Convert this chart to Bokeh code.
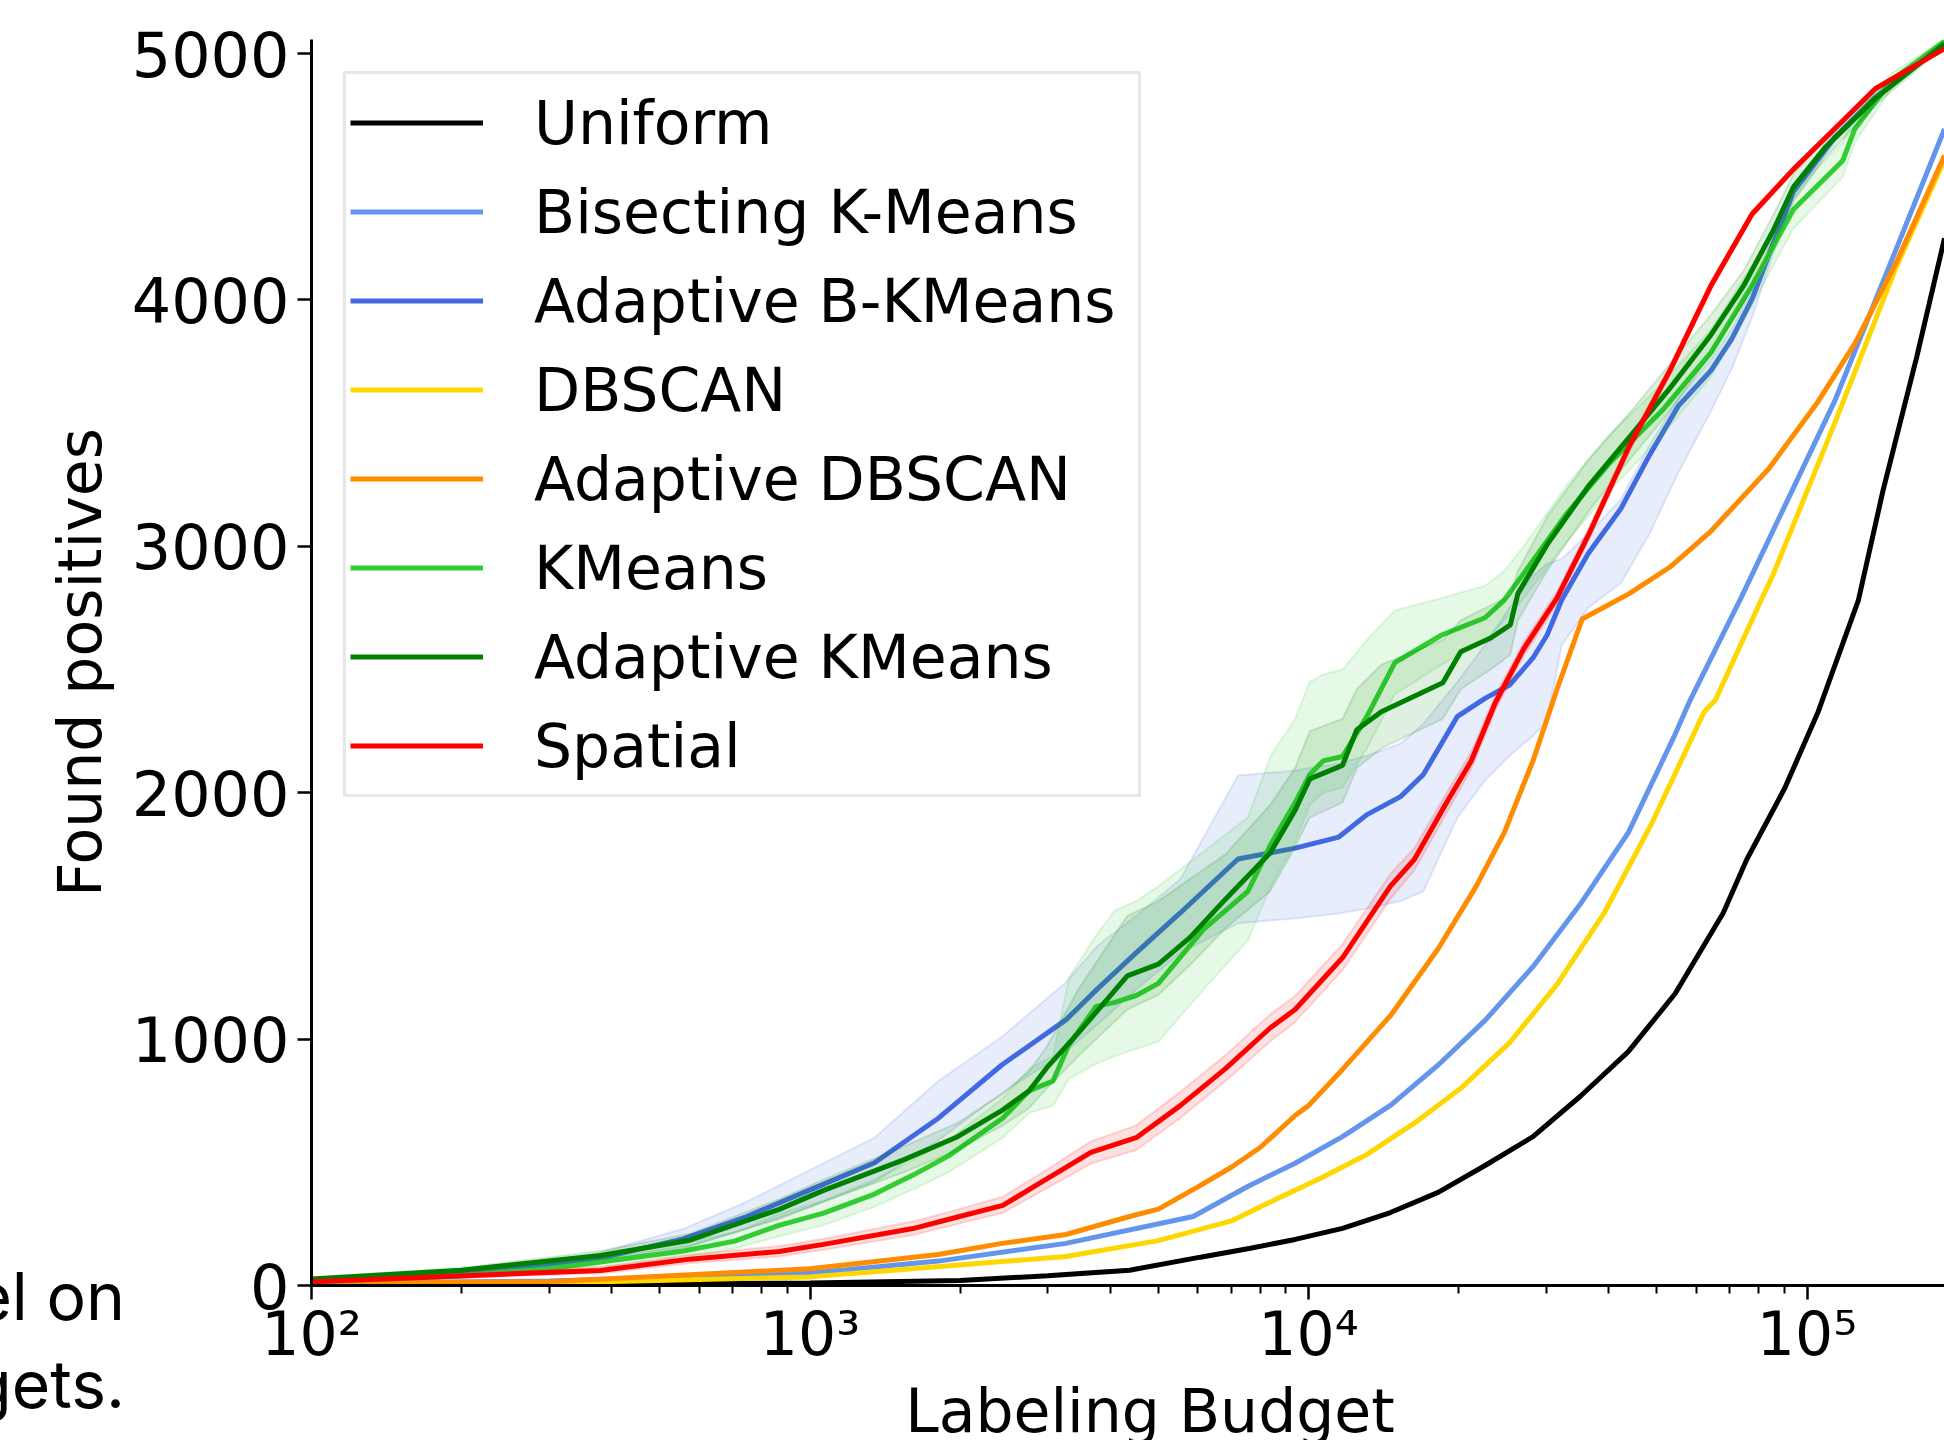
from bokeh.plotting import figure
from bokeh.models import Legend, LegendItem, FixedTicker, Range1d, Div
from bokeh.layouts import column
from bokeh.embed import file_html
from bokeh.resources import INLINE

FONT = "DejaVu Sans"

# ---------------- data ----------------
uniform_x = [100, 300, 1000, 2000, 3000, 4375, 6070, 7600, 9400, 11700, 14600, 18200, 22600,
             28200, 35100, 43800, 54400, 67900, 75700, 90300, 105300, 126800, 142000, 166000, 188700]
uniform_y = [3, 5, 10, 20, 40, 62, 115, 150, 187, 232, 296, 378, 487,
             604, 768, 949, 1185, 1512, 1729, 2020, 2329, 2782, 3225, 3769, 4250]

bisect_x = [100, 300, 1000, 1809, 3260, 5870, 7600, 9400, 11700, 14600, 18200, 22600, 28200,
            35100, 43800, 54400, 58300, 74100, 113500, 150800, 188700]
bisect_y = [10, 18, 50, 99, 171, 280, 405, 496, 604, 731, 895, 1076, 1294,
            1548, 1838, 2238, 2376, 2800, 3587, 4204, 4694]

adbk_x = [100, 230, 358, 557, 747, 1003, 1347, 1809, 2428, 3260, 3777, 4508, 5535, 7220, 9400,
          11500, 13100, 15300, 17000, 19900, 22600, 25300, 28200, 30100, 32200, 36400, 42300,
          48300, 55200, 64200, 70600, 77600, 85300, 93900, 113500, 137000, 148000, 188700]
adbk_y = [17, 62, 99, 189, 280, 389, 498, 679, 896, 1078, 1205, 1350, 1513, 1731, 1775,
          1820, 1911, 1984, 2074, 2310, 2383, 2437, 2547, 2640, 2782, 2971, 3152,
          3370, 3570, 3714, 3841, 4004, 4222, 4440, 4658, 4821, 4875, 5040]
adbk_lo = [12, 50, 80, 150, 230, 320, 420, 590, 780, 950, 1060, 1200, 1350, 1470, 1490,
           1510, 1530, 1560, 1600, 1900, 2050, 2150, 2230, 2290, 2600, 2750, 2850,
           3050, 3300, 3550, 3720, 3930, 4180, 4410, 4640, 4810, 4865, 5035]
adbk_hi = [22, 75, 120, 230, 340, 470, 600, 830, 1010, 1230, 1380, 1500, 1650, 2070, 2090,
           2120, 2150, 2200, 2280, 2450, 2600, 2750, 2880, 2930, 2950, 3050, 3190,
           3410, 3600, 3760, 3880, 4040, 4260, 4470, 4680, 4835, 4885, 5045]

dbscan_x = [100, 300, 1000, 3260, 5000, 7000, 8400, 10500, 13100, 16300, 20300, 25300, 31500,
            39200, 48800, 62200, 65500, 80900, 85300, 113500, 150800, 188700]
dbscan_y = [5, 10, 35, 118, 182, 262, 340, 432, 532, 659, 804, 985, 1221,
            1512, 1875, 2329, 2376, 2782, 2880, 3497, 4131, 4569]

addb_x = [100, 300, 1000, 1809, 2428, 3260, 4375, 5000, 6000, 7000, 8000, 9400, 10000, 11700,
          14600, 18200, 21700, 24700, 28200, 31500, 35400, 44000, 53100, 64200, 83800, 105200,
          124700, 150800, 188700]
addb_y = [8, 15, 68, 126, 171, 207, 280, 310, 400, 480, 560, 690, 730, 877,
          1095, 1367, 1621, 1838, 2129, 2419, 2705, 2808, 2916, 3062, 3315, 3587,
          3823, 4149, 4586]

km_x = [100, 200, 300, 557, 706, 866, 1065, 1347, 1609, 1897, 2437, 2751, 3072, 3307, 3748,
        4073, 4512, 5000, 6150, 7555, 8400, 9400, 10060, 10700, 11700, 13100, 14900, 18500,
        22600, 24700, 26800, 33000, 40000, 51200, 64200, 77600, 93900, 118000, 124700, 148000,
        188700]
km_y = [14, 40, 68, 140, 180, 244, 294, 371, 448, 526, 680, 790, 830, 977, 1133,
        1148, 1177, 1226, 1444, 1599, 1790, 1960, 2074, 2129, 2147, 2310, 2528, 2640,
        2710, 2782, 2880, 3134, 3334, 3551, 3787, 4059, 4367, 4566, 4694, 4893,
        5050]
km_lo = [10, 30, 55, 110, 150, 200, 245, 320, 390, 460, 600, 700, 730, 840, 900,
         930, 960, 990, 1200, 1400, 1620, 1800, 1950, 2000, 2020, 2180, 2400, 2520,
         2620, 2700, 2780, 3020, 3220, 3450, 3690, 3980, 4290, 4500, 4640, 4860,
         5040]
km_hi = [20, 50, 85, 175, 215, 290, 345, 430, 510, 590, 760, 880, 930, 1250, 1420,
         1520, 1560, 1620, 1760, 1900, 2150, 2300, 2450, 2480, 2500, 2620, 2740, 2790,
         2840, 2900, 2990, 3250, 3450, 3660, 3880, 4140, 4440, 4640, 4750, 4920,
         5060]

adkm_x = [100, 200, 380, 574, 867, 1065, 1545, 1977, 2437, 2751, 2986, 3450, 4330, 5000, 5780,
          6815, 8375, 9400, 10060, 11700, 12500, 14000, 18600, 20200, 23200, 25400, 26300,
          30100, 36400, 44000, 53100, 64200, 74700, 85300, 93900, 109000, 137000, 188700]
adkm_y = [26, 62, 122, 184, 309, 386, 511, 604, 713, 790, 884, 1024, 1257, 1304, 1412,
          1568, 1755, 1929, 2056, 2111, 2256, 2329, 2446, 2572, 2628, 2681, 2808,
          3007, 3243, 3442, 3642, 3859, 4059, 4277, 4458, 4621, 4817, 5040]
adkm_lo = [20, 52, 105, 160, 270, 340, 460, 550, 650, 720, 800, 930, 1120, 1180, 1300,
           1450, 1600, 1780, 1900, 1960, 2100, 2180, 2300, 2420, 2500, 2560, 2700,
           2900, 3140, 3350, 3550, 3780, 3990, 4210, 4400, 4580, 4790, 5030]
adkm_hi = [32, 72, 140, 210, 350, 430, 565, 660, 780, 870, 970, 1200, 1500, 1560, 1650,
           1750, 1950, 2100, 2250, 2300, 2420, 2520, 2620, 2700, 2760, 2800, 2900,
           3120, 3350, 3540, 3740, 3940, 4120, 4340, 4510, 4660, 4840, 5050]

spatial_x = [100, 230, 380, 574, 867, 1065, 1609, 1977, 2437, 2986, 3660, 4512, 5530, 6815,
             8375, 9400, 11700, 14600, 16300, 19000, 21200, 23700, 27000, 31500, 36400, 44000,
             53100, 64200, 77600, 93900, 113500, 137000, 188700]
spatial_y = [15, 44, 61, 107, 138, 167, 231, 278, 325, 433, 540, 600, 730, 880,
             1045, 1120, 1330, 1621, 1729, 1966, 2129, 2365, 2583, 2790, 3044, 3406,
             3714, 4059, 4349, 4530, 4694, 4857, 5020]
spatial_lo = [10, 36, 50, 90, 118, 145, 205, 250, 295, 395, 495, 550, 680, 830,
              990, 1070, 1280, 1570, 1685, 1925, 2095, 2335, 2555, 2765, 3020, 3385,
              3695, 4040, 4335, 4520, 4686, 4850, 5015]
spatial_hi = [20, 54, 74, 125, 160, 190, 260, 308, 360, 470, 585, 650, 785, 935,
              1100, 1175, 1385, 1670, 1775, 2005, 2165, 2395, 2610, 2815, 3068, 3427,
              3733, 4078, 4363, 4540, 4702, 4864, 5025]

labels = ["Uniform", "Bisecting K-Means", "Adaptive B-KMeans", "DBSCAN",
          "Adaptive DBSCAN", "KMeans", "Adaptive KMeans", "Spatial"]
colors = ["#000000", "#6495ED", "#4169E1", "#FFD700", "#FF8C00", "#32CD32", "#008000", "#FF0000"]

x_major = [100, 1000, 10000, 100000]
x_major_labels = ["10²", "10³", "10⁴", "10⁵"]
x_minor = [200, 300, 400, 500, 600, 700, 800, 900,
           2000, 3000, 4000, 5000, 6000, 7000, 8000, 9000,
           20000, 30000, 40000, 50000, 60000, 70000, 80000, 90000]
y_ticks = [0, 1000, 2000, 3000, 4000, 5000]

x_axis_title = "Labeling Budget"
y_axis_title = "Found positives"
caption_lines = ["model on", "budgets."]

# ---------------- figure ----------------
p = figure(width=1944, height=1440, x_axis_type="log",
           x_range=Range1d(100, 188700), y_range=Range1d(0, 5057),
           output_backend="svg", toolbar_location=None,
           min_border_left=311, min_border_right=0, min_border_top=39, min_border_bottom=155)
p.xgrid.visible = False
p.ygrid.visible = False
p.outline_line_color = None
p.background_fill_color = None
p.border_fill_color = None

series = [
    (uniform_x, uniform_y, None, None),
    (bisect_x, bisect_y, None, None),
    (adbk_x, adbk_y, adbk_lo, adbk_hi),
    (dbscan_x, dbscan_y, None, None),
    (addb_x, addb_y, None, None),
    (km_x, km_y, km_lo, km_hi),
    (adkm_x, adkm_y, adkm_lo, adkm_hi),
    (spatial_x, spatial_y, spatial_lo, spatial_hi),
]

items = []
for (xs, ys, lo, hi), lab, col in zip(series, labels, colors):
    if lo is not None:
        p.varea(x=xs, y1=lo, y2=hi, fill_color=col, fill_alpha=0.12)
        p.line(xs, lo, line_color=col, line_alpha=0.15, line_width=2)
        p.line(xs, hi, line_color=col, line_alpha=0.15, line_width=2)
    r = p.line(xs, ys, line_color=col, line_width=5)
    items.append(LegendItem(label=lab, renderers=[r]))

legend = Legend(items=items, location="top_left", margin=32, padding=4, spacing=0,
                glyph_width=133, glyph_height=89, label_height=89, label_standoff=51,
                label_width=600,
                label_text_font=FONT, label_text_font_size="60px", label_text_color="black",
                border_line_color="#d0d0d0", border_line_width=3,
                background_fill_color="white", background_fill_alpha=0.8)
p.add_layout(legend)

for ax in (p.xaxis[0], p.yaxis[0]):
    ax.axis_line_width = 3
    ax.axis_line_color = "black"
    ax.major_tick_line_width = 2.5
    ax.minor_tick_line_width = 2
    ax.major_tick_out = 14
    ax.major_tick_in = 0
    ax.minor_tick_out = 8
    ax.minor_tick_in = 0
    ax.major_label_text_font = FONT
    ax.major_label_text_font_size = "60px"
    ax.major_label_text_color = "black"

p.xaxis.ticker = FixedTicker(ticks=x_major, minor_ticks=x_minor)
p.xaxis.major_label_overrides = dict(zip(x_major, x_major_labels))
p.xaxis.major_label_standoff = -1
p.yaxis.ticker = FixedTicker(ticks=y_ticks)
p.yaxis.minor_tick_out = 0
p.yaxis.major_label_standoff = 8
p.yaxis.major_label_text_font_size = "62px"
p.yaxis.axis_label = y_axis_title
p.yaxis.axis_label_text_font = FONT
p.yaxis.axis_label_text_font_size = "60px"
p.yaxis.axis_label_text_font_style = "normal"
p.yaxis.axis_label_text_color = "black"
p.yaxis.axis_label_standoff = 14

# x-axis title and the cropped caption text at the lower left, as real text over the canvas
overlay_html = (
    '<div style="position:relative; width:1944px; height:188px; overflow:hidden;">'
    '<div style="position:absolute; right:1819px; top:0px; font-family:Inter; font-size:66px; '
    'line-height:88px; text-align:right; white-space:nowrap; color:#000;">'
    + caption_lines[0] + '<br>' + caption_lines[1] + '</div>'
    '<div style="position:absolute; left:1150px; top:124px; transform:translateX(-50%); '
    "font-family:'DejaVu Sans'; font-size:60px; line-height:70px; white-space:nowrap; color:#000;\">"
    + x_axis_title + '</div>'
    '</div>')
overlay = Div(text=overlay_html, width=1944, height=188, margin=(-188, 0, 0, 0))

page = column(p, overlay)
open("out.html", "w").write(file_html(page, INLINE))
